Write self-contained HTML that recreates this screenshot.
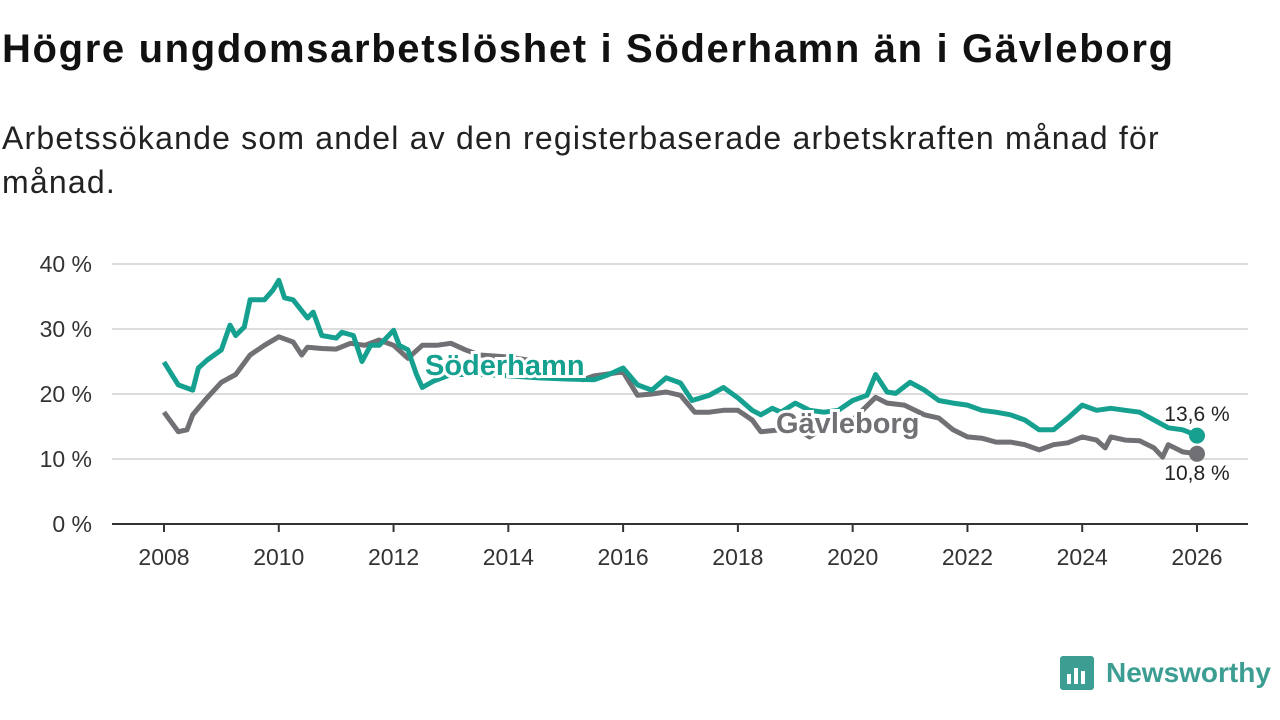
<!DOCTYPE html>
<html><head><meta charset="utf-8"><style>
body{margin:0;width:1280px;height:720px;background:#fff;font-family:"Liberation Sans",sans-serif;overflow:hidden;position:relative}
#title{position:absolute;left:2px;top:27px;font-size:40px;font-weight:bold;color:#111;letter-spacing:1.65px;white-space:nowrap}
#sub{position:absolute;left:2px;top:116px;font-size:32px;line-height:44px;color:#222;width:1190px;letter-spacing:1.2px}
svg{position:absolute;left:0;top:0}
</style></head><body>
<div id="title">Högre ungdomsarbetslöshet i Söderhamn än i Gävleborg</div>
<div id="sub">Arbetssökande som andel av den registerbaserade arbetskraften månad för månad.</div>
<svg id="chart" width="1280" height="720">
<g id="logo">
<rect x="1060" y="656" width="34" height="34" rx="3" fill="#3c9e92"/>
<rect x="1067" y="674" width="4" height="10" fill="#fff"/><rect x="1074" y="668" width="4" height="16" fill="#fff"/><rect x="1081" y="671" width="4" height="13" fill="#fff"/>
<text x="1106" y="682" font-size="28" font-weight="bold" fill="#3c9e92">Newsworthy</text>
</g>
</svg>
<script>
const yTicks=[0,10,20,30,40];
const xTicks=[2008,2010,2012,2014,2016,2018,2020,2022,2024,2026];
const sodT=[2008,2008.25,2008.5,2008.6,2008.75,2009,2009.15,2009.25,2009.4,2009.5,2009.75,2009.9,2010,2010.1,2010.25,2010.5,2010.6,2010.75,2011,2011.1,2011.3,2011.45,2011.6,2011.75,2012,2012.1,2012.25,2012.4,2012.5,2012.7,2013,2013.5,2014,2014.5,2015,2015.5,2015.75,2016,2016.25,2016.5,2016.75,2017,2017.2,2017.5,2017.75,2018,2018.25,2018.4,2018.6,2018.75,2019,2019.25,2019.5,2019.75,2020,2020.25,2020.4,2020.6,2020.75,2021,2021.25,2021.5,2021.75,2022,2022.25,2022.5,2022.75,2023,2023.25,2023.5,2023.75,2024,2024.25,2024.5,2024.75,2025,2025.25,2025.5,2025.75,2026];
const sodV=[24.9,21.4,20.6,24,25.2,26.8,30.6,29,30.3,34.5,34.5,36,37.5,34.8,34.5,31.7,32.6,29,28.6,29.5,29,25,27.5,27.5,29.8,27.5,26.8,23,21,22,23,23,22.8,22.5,22.3,22.2,23,24,21.4,20.6,22.5,21.7,19,19.8,21,19.4,17.5,16.8,17.8,17.2,18.6,17.5,17.2,17.5,19,19.8,23,20.3,20.1,21.8,20.6,19,18.6,18.3,17.5,17.2,16.8,16,14.5,14.5,16.3,18.3,17.5,17.8,17.5,17.2,16,14.8,14.5,13.6];
const gavT=[2008,2008.25,2008.4,2008.5,2008.75,2009,2009.25,2009.5,2009.75,2010,2010.25,2010.4,2010.5,2010.75,2011,2011.25,2011.5,2011.75,2012,2012.25,2012.5,2012.75,2013,2013.25,2013.5,2014,2014.5,2015,2015.3,2015.5,2016,2016.25,2016.5,2016.75,2017,2017.25,2017.5,2017.75,2018,2018.25,2018.4,2018.75,2019,2019.25,2019.5,2020,2020.4,2020.6,2020.9,2021.25,2021.5,2021.75,2022,2022.25,2022.5,2022.75,2023,2023.25,2023.5,2023.75,2024,2024.25,2024.4,2024.5,2024.75,2025,2025.25,2025.4,2025.5,2025.75,2026];
const gavV=[17.2,14.2,14.5,16.8,19.4,21.8,23,26,27.5,28.8,28,26,27.2,27,26.9,27.8,27.5,28.3,27.5,25.5,27.5,27.5,27.8,26.8,26,25.7,25,24,22.2,22.8,23.4,19.8,20,20.3,19.8,17.2,17.2,17.5,17.5,16,14.2,14.5,14.8,13.4,14.8,16,19.5,18.6,18.3,16.8,16.3,14.5,13.4,13.2,12.6,12.6,12.2,11.4,12.2,12.5,13.4,12.9,11.7,13.4,12.9,12.8,11.7,10.3,12.2,11.1,10.8];
const NS='http://www.w3.org/2000/svg';
const svg=document.getElementById('chart');
const X=t=>164+(t-2008)*(1197-164)/18;
const Y=v=>524-v*6.5;
function mk(tag,attrs,parent){const e=document.createElementNS(NS,tag);for(const k in attrs)e.setAttribute(k,attrs[k]);(parent||svg).appendChild(e);return e;}
yTicks.forEach(v=>{
  const l=mk('line',{x1:112,x2:1248,y1:Y(v),y2:Y(v),stroke:v===0?'#333':'#ddd','stroke-width':2});
  
  
  const t=mk('text',{x:92,y:Y(v)+8,'text-anchor':'end','font-size':23,fill:'#333'});t.textContent=v+' %';
  
  
});
xTicks.forEach(yr=>{
  const l=mk('line',{x1:X(yr),x2:X(yr),y1:524,y2:532,stroke:'#333','stroke-width':2});
  
  
  const t=mk('text',{x:X(yr),y:565,'text-anchor':'middle','font-size':23,fill:'#333'});t.textContent=yr;
  
  
});
function series(T,V,color,name){
  const d=T.map((t,i)=>(i?'L':'M')+X(t).toFixed(1)+','+Y(V[i]).toFixed(1)).join(' ');
  const p=mk('path',{d:d,fill:'none',stroke:color,'stroke-width':5,'stroke-linejoin':'round'});
  
  
  const n=T.length-1;
  const c=mk('circle',{cx:X(T[n]),cy:Y(V[n]),r:8,fill:color});
  
  
}
series(gavT,gavV,'#717074','gavleborg');
series(sodT,sodV,'#16a090','soderhamn');
function lab(x,y,txt,color,name,size,bold,anchor){
  const t=mk('text',{x:x,y:y,'font-size':size,'font-weight':bold?'bold':'normal',fill:color,stroke:'#fff','stroke-width':bold?6:0,'paint-order':'stroke','text-anchor':anchor||'start'});
  t.textContent=txt;
  
  
}
lab(425,375,'Söderhamn','#16a090','soderhamn-label',29,true);
lab(776,433,'Gävleborg','#717074','gavleborg-label',29,true);
lab(1197,421,'13,6 %','#222','soderhamn-value-label',21,false,'middle');
lab(1197,480,'10,8 %','#222','gavleborg-value-label',21,false,'middle');
</script>
</body></html>
